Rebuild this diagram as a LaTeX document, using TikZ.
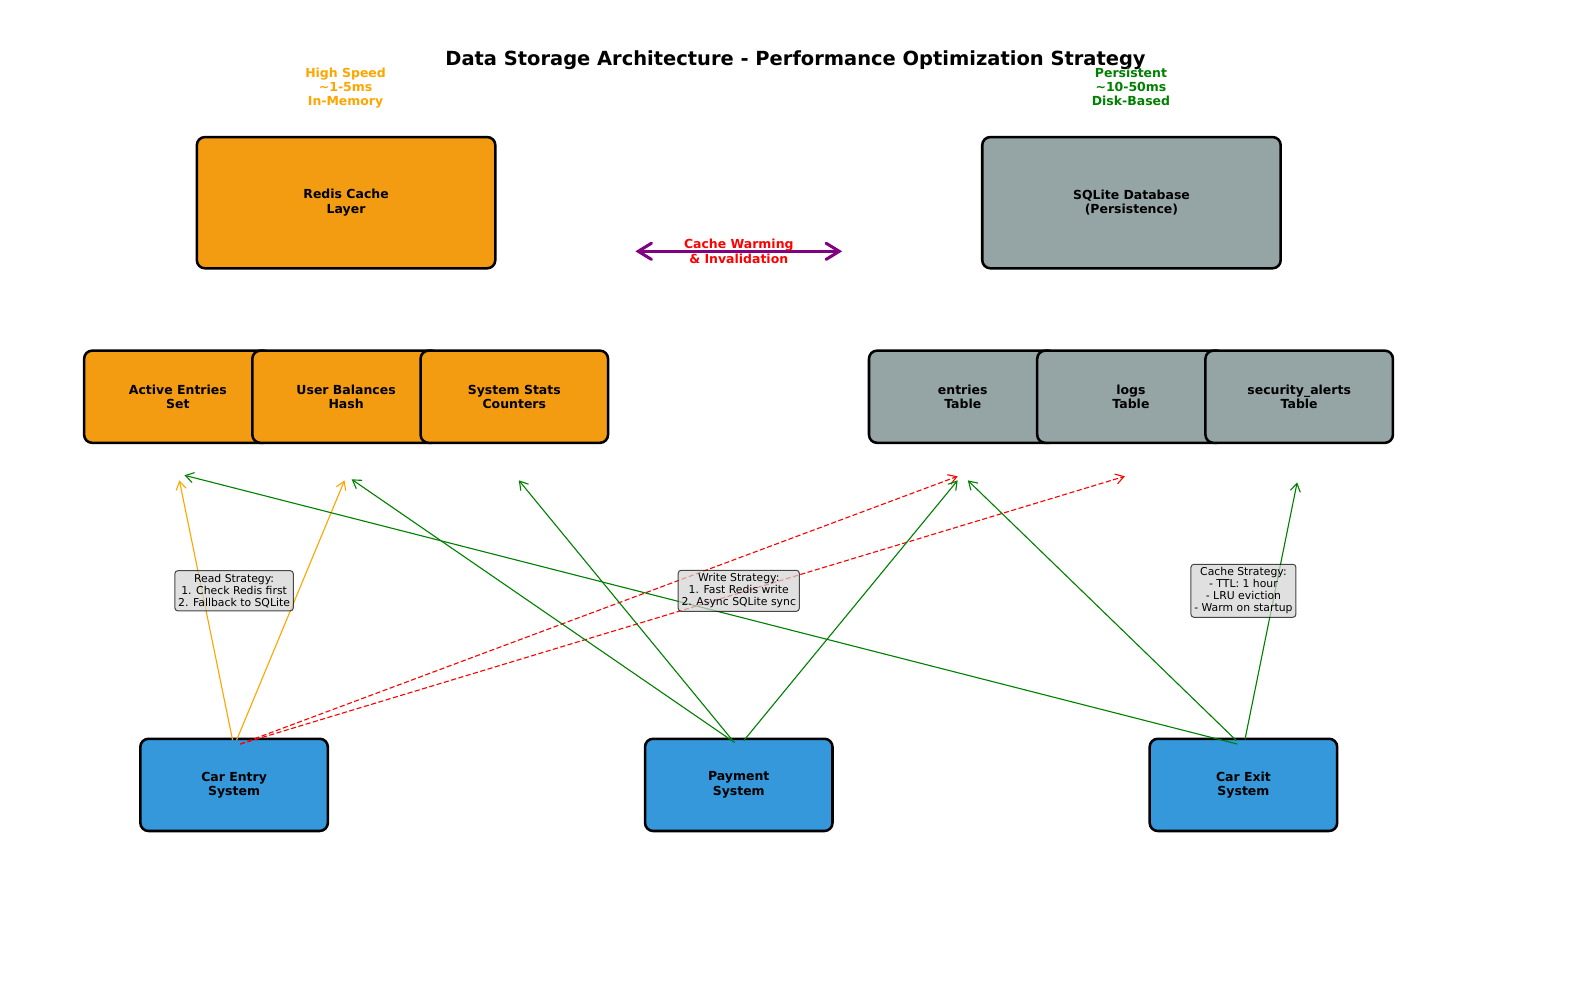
\documentclass[tikz,border=0pt]{standalone}
\usepackage{fontspec}
\setmainfont{DejaVu Sans}
\usetikzlibrary{arrows.meta,calc}
\definecolor{redisor}{HTML}{F39C12}
\definecolor{sqlgray}{HTML}{95A5A6}
\definecolor{sysblue}{HTML}{3498DB}
\definecolor{mplorange}{HTML}{FFA500}
\definecolor{mplgreen}{HTML}{008000}
\definecolor{mplpurple}{HTML}{800080}
\definecolor{mplred}{HTML}{FF0000}
\definecolor{mpllight}{HTML}{D3D3D3}
\begin{document}
\begin{tikzpicture}[x=1pt,y=-1pt,
  box/.style={draw=black, line width=2.5pt, rounded corners=8pt, align=center,
    font=\fontsize{12.3}{14}\selectfont\bfseries, inner sep=0pt},
  bigbox/.style={box, minimum width=294.5pt, minimum height=129.5pt},
  smallbox/.style={box, minimum width=185pt, minimum height=91pt},
  note/.style={draw=black, fill=mpllight, draw opacity=0.7, fill opacity=0.7,
    text opacity=1, rounded corners=3pt, line width=1pt, inner sep=3.3pt,
    align=center, font=\fontsize{10.7}{11.8}\selectfont},
  lat/.style={align=center, font=\fontsize{12.3}{14}\selectfont\bfseries},
  conn/.style={line width=1.1pt, -{Straight Barb[length=8pt,width=10pt]}},
  dconn/.style={conn, dash pattern=on 5pt off 2.5pt},
]
\useasboundingbox (0,0) rectangle (1568,976);
\fill[white] (0,0) rectangle (1568,976);

% title
\node[font=\fontsize{19.2}{22}\selectfont\bfseries] (title) at (785,59)
  {Data Storage Architecture - Performance Optimization Strategy};

% latency labels
\node[lat, text=mplorange] (fast) at (341,87) {High Speed\\\textasciitilde1-5ms\\In-Memory};
\node[lat, text=mplgreen] (persist) at (1116,86) {Persistent\\\textasciitilde10-50ms\\Disk-Based};

% main layers
\node[bigbox, fill=redisor] (redis) at (341.5,200) {Redis Cache\\Layer};
\node[bigbox, fill=sqlgray] (sqlite) at (1116.5,200) {SQLite Database\\(Persistence)};

% sync arrow
\coordinate (warmL) at (627,248);
\coordinate (warmR) at (831,248);
\draw[mplpurple, line width=3pt, line cap=round,
  {Straight Barb[length=13pt,width=16pt,line cap=round]}-{Straight Barb[length=13pt,width=16pt,line cap=round]}]
  (warmL) -- (warmR);
\node[lat, text=mplred] (warm) at (729,248) {Cache Warming\\\& Invalidation};

% cache structures
\node[smallbox, fill=redisor] (ae) at (175.5,391.5) {Active Entries\\Set};
\node[smallbox, fill=redisor] (ub) at (341.5,391.5) {User Balances\\Hash};
\node[smallbox, fill=redisor] (ss) at (507.5,391.5) {System Stats\\Counters};

% tables
\node[smallbox, fill=sqlgray] (ent) at (950,391.5) {entries\\Table};
\node[smallbox, fill=sqlgray] (logs) at (1116,391.5) {logs\\Table};
\node[smallbox, fill=sqlgray] (sec) at (1282,391.5) {security\_alerts\\Table};

% systems
\node[smallbox, fill=sysblue] (entry) at (231,774.5) {Car Entry\\System};
\node[smallbox, fill=sysblue] (pay) at (729,774.5) {Payment\\System};
\node[smallbox, fill=sysblue] (exit) at (1227,774.5) {Car Exit\\System};

% arrow targets
\coordinate (tAEo) at (177,474);
\coordinate (tAEg) at (182,469);
\coordinate (tUBo) at (340,474);
\coordinate (tUBg) at (347,473);
\coordinate (tSSg) at (512,474);
\coordinate (tENr) at (945,470);
\coordinate (tENp) at (945,474);
\coordinate (tENx) at (955,474);
\coordinate (tLGr) at (1110,470);
\coordinate (tSCg) at (1280,476);

% car entry flows
\draw[conn, mplorange] ($(entry.north)+(-1.5,2.5)$) -- (tAEo);
\draw[conn, mplorange] ($(entry.north)+(2.5,2.5)$) -- (tUBo);
\draw[dconn, mplred] ($(entry.north)+(6,6.5)$) -- (tENr);
\draw[dconn, mplred] ($(entry.north)+(6,6.5)$) -- (tLGr);

% payment flows
\draw[conn, mplgreen] ($(pay.north)+(-4,5)$) -- (tUBg);
\draw[conn, mplgreen] ($(pay.north)+(-6,3)$) -- (tSSg);
\draw[conn, mplgreen] ($(pay.north)+(5,3)$) -- (tENp);

% car exit flows
\draw[conn, mplgreen] ($(exit.north)+(-6,6.5)$) -- (tAEg);
\draw[conn, mplgreen] ($(exit.north)+(-7,3)$) -- (tENx);
\draw[conn, mplgreen] ($(exit.north)+(1.5,2)$) -- (tSCg);

% strategy notes
\node[note] (readn) at (231,583) {Read Strategy:\\1. Check Redis first\\2. Fallback to SQLite};
\node[note] (writen) at (729,583) {Write Strategy:\\1. Fast Redis write\\2. Async SQLite sync};
\node[note] (cachen) at (1227,583) {Cache Strategy:\\- TTL: 1 hour\\- LRU eviction\\- Warm on startup};
\end{tikzpicture}
\end{document}
